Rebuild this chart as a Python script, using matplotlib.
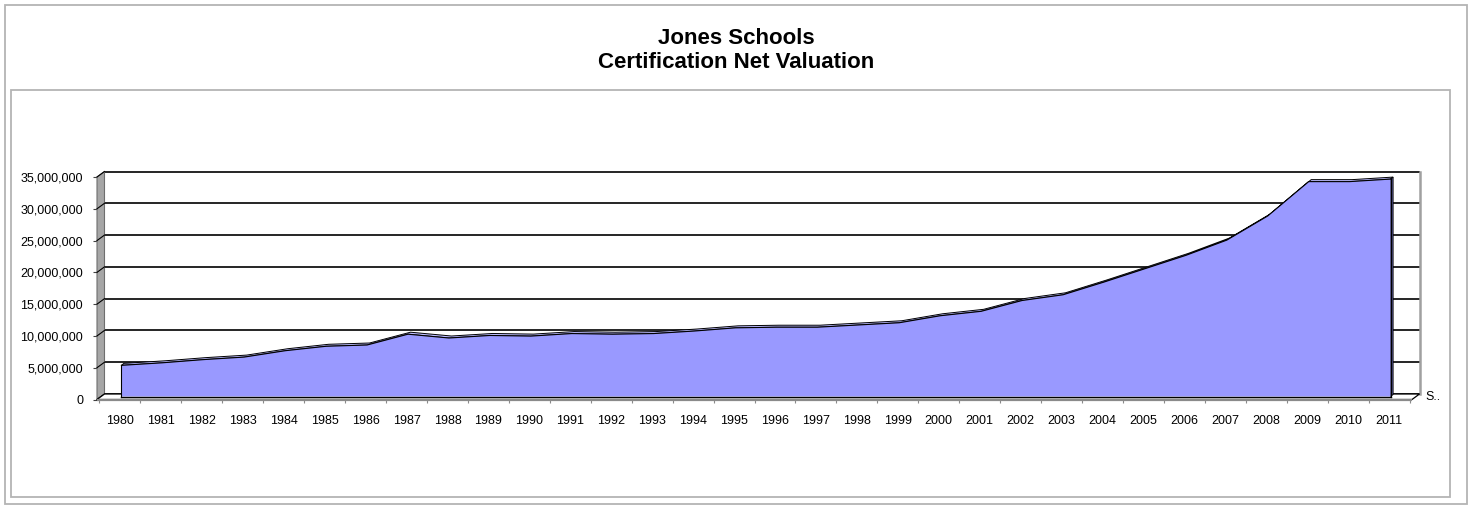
import matplotlib
matplotlib.use("Agg")
import matplotlib.pyplot as plt
from matplotlib.patches import Polygon, Rectangle
import numpy as np

# ---------------- data ----------------
years = [str(y) for y in range(1980, 2012)]
values = [4.9e6, 5.3e6, 5.8e6, 6.2e6, 7.2e6, 7.9e6, 8.1e6, 9.8e6, 9.2e6, 9.6e6,
          9.5e6, 9.9e6, 9.8e6, 9.9e6, 10.3e6, 10.8e6, 10.9e6, 10.9e6, 11.25e6, 11.6e6,
          12.7e6, 13.4e6, 15.1e6, 16.0e6, 18.0e6, 20.1e6, 22.2e6, 24.6e6, 28.4e6, 33.8e6,
          33.8e6, 34.2e6]
y_ticks = [0, 5e6, 10e6, 15e6, 20e6, 25e6, 30e6, 35e6]
title_lines = ["Jones Schools", "Certification Net Valuation"]
depth_label = "S.."

# ---------------- figure ----------------
W, H = 1469, 505
plt.rcParams['font.family'] = ['Liberation Sans', 'DejaVu Sans']
fig = plt.figure(figsize=(W / 100, H / 100), dpi=100)
fig.patch.set_facecolor("white")

# borders (chart area and plot area)
fig.add_artist(Rectangle((5 / W, 1 / H), (W - 7) / W, (H - 6) / H, transform=fig.transFigure,
                         fill=False, edgecolor="#b4b4b4", lw=1.3))
fig.add_artist(Rectangle((11 / W, 1 - 497 / H), (1450 - 11) / W, (497 - 90) / H,
                         transform=fig.transFigure, fill=False, edgecolor="#b4b4b4", lw=1.3))

# titles
fig.text(736 / W, 1 - 43.5 / H, title_lines[0], ha="center", va="baseline",
         fontsize=16, fontweight="bold")
fig.text(736 / W, 1 - 67.5 / H, title_lines[1], ha="center", va="baseline",
         fontsize=16, fontweight="bold")

# axes (front plane)
ax_left, ax_bottom, ax_w, ax_h = 97.0, H - 399.5, 1315.0, 222.5
ax = fig.add_axes([ax_left / W, ax_bottom / H, ax_w / W, ax_h / H])
x = np.arange(len(years))
xlim = (-0.56, len(years) - 1 + 0.56)
ymax = y_ticks[-1]
ax.set_xlim(*xlim)
ax.set_ylim(0, ymax)
ax.patch.set_alpha(0)
for s in ax.spines.values():
    s.set_visible(False)

px_x = ax_w / (xlim[1] - xlim[0])
px_y = ax_h / ymax


def off(dxp, dyp):
    return dxp / px_x, dyp / px_y


DX, DY = off(7.5, 5.5)      # full depth
FX, FY = off(1.5, 3.0)      # area front face
BX, BY = off(4.0, 5.0)      # area back face
x0, x1 = xlim

# back wall gridlines
for t in y_ticks:
    ax.plot([x0 + DX, x1 + DX], [t + DY, t + DY], color="black", lw=1.2,
            clip_on=False, zorder=1, solid_capstyle="butt")

# left side wall
ax.add_patch(Polygon([(x0, 0), (x0, ymax), (x0 + DX, ymax + DY), (x0 + DX, DY)],
                     closed=True, facecolor="#a6a6a6", edgecolor="#6e6e6e", lw=0.8,
                     clip_on=False, zorder=2))
for t in y_ticks:
    ax.plot([x0, x0 + DX], [t, t + DY], color="black", lw=0.8, clip_on=False, zorder=3)

# right edge of back wall
ax.plot([x1 + DX, x1 + DX], [DY, ymax + DY], color="#a0a0a0", lw=1.8,
        clip_on=False, zorder=2)

# floor
ax.add_patch(Polygon([(x0, 0), (x1, 0), (x1 + DX, DY), (x0 + DX, DY)], closed=True,
                     facecolor="white", edgecolor="black", lw=0.9, clip_on=False, zorder=3))
ax.plot([x0, x1], [0, 0], color="#8a8a8a", lw=1.6, clip_on=False, zorder=4,
        solid_capstyle="butt")

# area: top strip
v = np.array(values)
top_poly = list(zip(x + FX, v + FY)) + list(zip((x + BX)[::-1], (v + BY)[::-1]))
ax.add_patch(Polygon(top_poly, closed=True, facecolor="#bcbcff", edgecolor="black",
                     lw=0.7, clip_on=False, zorder=5))
# area: right side face
xe = x[-1]
ax.add_patch(Polygon([(xe + FX, FY), (xe + FX, v[-1] + FY), (xe + BX, v[-1] + BY),
                      (xe + BX, BY)], closed=True, facecolor="#6a6ab4",
                     edgecolor="black", lw=0.7, clip_on=False, zorder=5))
# area: front face
ax.fill_between(x + FX, FY, v + FY, facecolor="#9999ff", edgecolor="none",
                zorder=6, clip_on=False)
ax.plot(x + FX, v + FY, color="black", lw=0.8, zorder=7, clip_on=False)
ax.plot([x[0] + FX, x[0] + FX], [FY, v[0] + FY], color="black", lw=0.8, zorder=7,
        clip_on=False)
ax.plot([x[-1] + FX, x[-1] + FX], [FY, v[-1] + FY], color="black", lw=0.8, zorder=7,
        clip_on=False)
ax.plot([x[0] + FX, x[-1] + FX], [FY, FY], color="black", lw=1.0, zorder=7,
        clip_on=False)

# ticks and labels
ax.set_yticks(y_ticks)
ax.set_yticklabels([f"{t:,.0f}" for t in y_ticks])
ax.tick_params(axis="y", length=3, width=0.8, color="#404040", pad=7, labelsize=9)
ax.set_xticks(x)
ax.set_xticklabels(years)
ax.tick_params(axis="x", which="major", length=0, pad=11, labelsize=9)
ax.set_xticks(np.arange(-0.5, len(years), 1.0), minor=True)
ax.tick_params(axis="x", which="minor", length=2.5, width=0.8, color="#8a8a8a")

ax.text(x1 + off(13, 0)[0], off(0, 2.5)[1], depth_label, ha="left", va="center",
        fontsize=9, clip_on=False)

fig.savefig("out.png", dpi=100, facecolor="white")
